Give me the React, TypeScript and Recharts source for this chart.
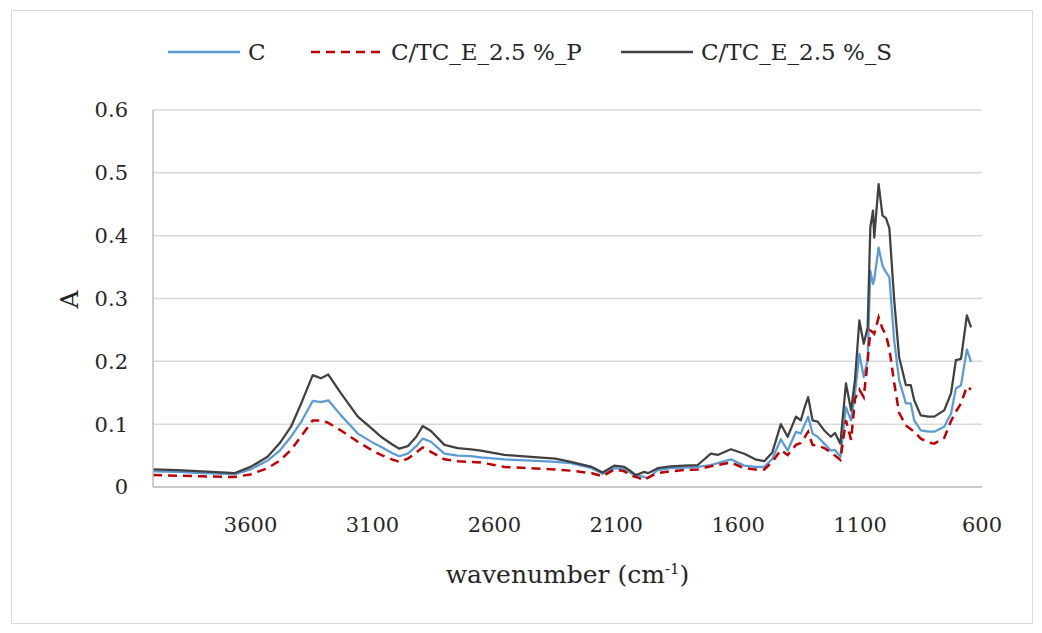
import React from "react";
import { LineChart, Line, XAxis, YAxis, CartesianGrid } from "recharts";

const wavenumbers = [
  4000, 3900, 3800, 3700, 3667, 3600, 3530, 3480, 3434, 3390, 3345, 3311, 3281, 3229, 3160, 3100,
  3065, 3020, 2990, 2955, 2920, 2894, 2860, 2805, 2750, 2696, 2655, 2559, 2450, 2350, 2286, 2200,
  2156, 2108, 2067, 2040, 2019, 1985, 1970, 1930, 1876, 1820, 1766, 1712, 1684, 1630, 1575, 1530,
  1493, 1460, 1425, 1397, 1363, 1343, 1329, 1313, 1295, 1274, 1247, 1220, 1203, 1181, 1158, 1137,
  1121, 1103, 1085, 1069, 1058, 1047, 1042, 1024, 1008, 994, 980, 960, 940, 912, 892, 878, 851,
  820, 796, 755, 727, 707, 686, 662, 645,
];

const seriesC = [
  0.025, 0.024, 0.022, 0.021, 0.02, 0.028, 0.042, 0.058, 0.08, 0.105, 0.137, 0.135, 0.138, 0.114, 0.085, 0.071,
  0.064, 0.054, 0.049, 0.053, 0.065, 0.077, 0.072, 0.053, 0.05, 0.049, 0.047, 0.044, 0.042, 0.04, 0.038, 0.03,
  0.021, 0.03, 0.029, 0.022, 0.019, 0.016, 0.014, 0.027, 0.03, 0.031, 0.032, 0.035, 0.038, 0.044, 0.034, 0.032,
  0.032, 0.045, 0.076, 0.058, 0.088, 0.085, 0.098, 0.112, 0.085, 0.08, 0.069, 0.058, 0.059, 0.048, 0.127, 0.106,
  0.149, 0.212, 0.175, 0.202, 0.344, 0.323, 0.33, 0.381, 0.352, 0.342, 0.334, 0.233, 0.17, 0.133, 0.133, 0.106, 0.09,
  0.088, 0.088, 0.096, 0.117, 0.157, 0.162, 0.219, 0.199,
];

const seriesP = [
  0.019, 0.018, 0.017, 0.016, 0.016, 0.02, 0.03, 0.042, 0.059, 0.082, 0.106, 0.106, 0.102, 0.09, 0.072, 0.058,
  0.051, 0.044, 0.04, 0.045, 0.055, 0.063, 0.056, 0.044, 0.041, 0.04, 0.039, 0.032, 0.03, 0.028, 0.026, 0.022,
  0.017, 0.028, 0.025, 0.018, 0.016, 0.011, 0.015, 0.022, 0.025, 0.027, 0.028, 0.033, 0.035, 0.039, 0.03, 0.028,
  0.028, 0.04, 0.059, 0.051, 0.067, 0.07, 0.078, 0.088, 0.067, 0.066, 0.062, 0.055, 0.05, 0.043, 0.106, 0.075,
  0.14, 0.155, 0.143, 0.2, 0.249, 0.246, 0.244, 0.27, 0.252, 0.242, 0.22, 0.165, 0.118, 0.098, 0.092, 0.088, 0.077,
  0.071, 0.069, 0.078, 0.105, 0.12, 0.133, 0.16, 0.155,
];

const seriesS = [
  0.028, 0.027, 0.025, 0.023, 0.022, 0.032, 0.048, 0.07, 0.096, 0.135, 0.178, 0.173, 0.179, 0.149, 0.112, 0.092,
  0.08, 0.068, 0.061, 0.065, 0.08, 0.097, 0.089, 0.067, 0.062, 0.06, 0.058, 0.051, 0.048, 0.045, 0.04, 0.032,
  0.023, 0.034, 0.032, 0.025, 0.019, 0.024, 0.022, 0.03, 0.033, 0.034, 0.035, 0.053, 0.051, 0.06, 0.053, 0.044,
  0.041, 0.055, 0.1, 0.08, 0.112, 0.106, 0.125, 0.143, 0.106, 0.104, 0.09, 0.08, 0.086, 0.069, 0.165, 0.122,
  0.17, 0.265, 0.228, 0.254, 0.413, 0.44, 0.397, 0.482, 0.432, 0.428, 0.412, 0.297, 0.207, 0.162, 0.162, 0.138, 0.114,
  0.112, 0.112, 0.122, 0.149, 0.202, 0.204, 0.273, 0.254,
];

const xTicks = [3600, 3100, 2600, 2100, 1600, 1100, 600];
const yTicks = [0, 0.1, 0.2, 0.3, 0.4, 0.5, 0.6];

const seriesNames = ["C", "C/TC_E_2.5 %_P", "C/TC_E_2.5 %_S"];

const data = wavenumbers.map((w, i) => ({
  w,
  c: seriesC[i],
  p: seriesP[i],
  s: seriesS[i],
}));

const FONT = "'DejaVu Serif', serif";
const BLUE = "#5B9BD5";
const RED = "#C00000";
const DARK = "#404040";

const XTitle = (props: any) => {
  const vb = props.viewBox || {};
  const cx = vb.x + vb.width / 2;
  const y = vb.y + 96;
  return (
    <text x={cx} y={y} textAnchor="middle" fontFamily={FONT} fontSize={25} fill="#262626">
      <tspan>wavenumber (cm</tspan>
      <tspan dy={-9} fontSize={15}>-1</tspan>
      <tspan dy={9}>)</tspan>
    </text>
  );
};

const LegendItem = ({ color, dash, label, left }: { color: string; dash?: string; label: string; left: number }) => (
  <div style={{ position: "absolute", left, top: 0, display: "flex", alignItems: "center", height: 30 }}>
    <svg width={76} height={10}>
      <line x1={2} y1={5} x2={74} y2={5} stroke={color} strokeWidth={2.5} strokeDasharray={dash} />
    </svg>
    <span style={{ fontFamily: FONT, fontSize: 23, color: "#262626", marginLeft: 6, whiteSpace: "nowrap" }}>{label}</span>
  </div>
);

export default function App() {
  return (
    <div
      style={{
        position: "absolute",
        left: 11,
        top: 10,
        width: 1020,
        height: 612,
        border: "1px solid #d9d9d9",
        background: "#fff",
      }}
    >
      <div style={{ position: "absolute", left: 154, top: 26, width: 800, height: 30 }}>
        <LegendItem color={BLUE} label={seriesNames[0]} left={0} />
        <LegendItem color={RED} dash="9 6" label={seriesNames[1]} left={143} />
        <LegendItem color={DARK} label={seriesNames[2]} left={453} />
      </div>
      <div
        style={{
          position: "absolute",
          left: 48,
          top: 276,
          transform: "rotate(-90deg)",
          fontFamily: FONT,
          fontSize: 25,
          color: "#262626",
          lineHeight: "25px",
        }}
      >
        A
      </div>
      <LineChart
        width={1020}
        height={612}
        data={data}
        margin={{ top: 99, right: 50, left: 0, bottom: 0 }}
      >
        <CartesianGrid horizontal={true} vertical={false} stroke="#d9d9d9" strokeWidth={1.5} />
        <XAxis
          dataKey="w"
          type="number"
          domain={[600, 4000]}
          reversed
          ticks={xTicks}
          height={136}
          tickLine={false}
          tickSize={0}
          tickMargin={30}
          axisLine={{ stroke: "#bfbfbf", strokeWidth: 1.5 }}
          tick={{ fontFamily: FONT, fontSize: 21, fill: "#262626" }}
          interval={0}
          label={<XTitle />}
        />
        <YAxis
          type="number"
          domain={[0, 0.6]}
          ticks={yTicks}
          width={141}
          tickLine={false}
          tickSize={0}
          tickMargin={25}
          axisLine={{ stroke: "#bfbfbf", strokeWidth: 1.5 }}
          tick={{ fontFamily: FONT, fontSize: 21, fill: "#262626" }}
          interval={0}
        />
        <Line
          dataKey="c"
          name={seriesNames[0]}
          stroke={BLUE}
          strokeWidth={2.25}
          dot={false}
          isAnimationActive={false}
          strokeLinejoin="round"
        />
        <Line
          dataKey="p"
          name={seriesNames[1]}
          stroke={RED}
          strokeWidth={2.5}
          strokeDasharray="9 6"
          dot={false}
          isAnimationActive={false}
        />
        <Line
          dataKey="s"
          name={seriesNames[2]}
          stroke={DARK}
          strokeWidth={2.25}
          dot={false}
          isAnimationActive={false}
          strokeLinejoin="round"
        />
      </LineChart>
    </div>
  );
}
